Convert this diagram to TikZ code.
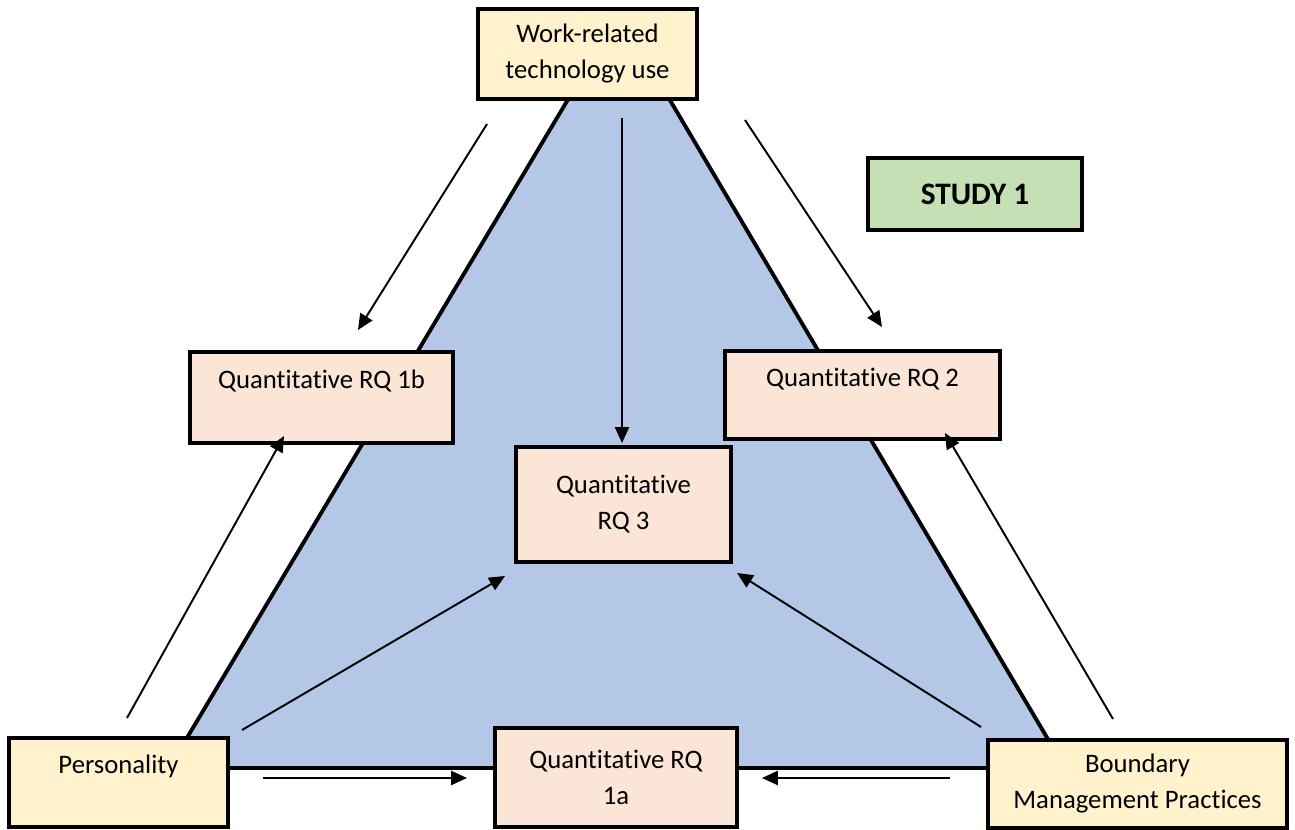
\documentclass[tikz,border=0pt]{standalone}
\usepackage{fontspec}
\setmainfont{Carlito}[Ligatures={NoCommon,NoContextual}]
\usetikzlibrary{arrows.meta}
\definecolor{techyellow}{RGB}{255,242,204}
\definecolor{rqpeach}{RGB}{251,229,214}
\definecolor{studygreen}{RGB}{197,224,180}
\definecolor{triblue}{RGB}{180,199,231}
\tikzset{
  box/.style={draw=black, line width=2.2pt, align=center, inner sep=2pt,
    font=\fontsize{15.2}{20.5}\selectfont},
  link/.style={-{Triangle[length=9pt, width=8pt]}, line width=1.1pt}
}

\begin{document}
\begin{tikzpicture}[x=0.02cm, y=-0.02cm]
  \useasboundingbox (0,0) rectangle (1295,830);
  % shaded triangle behind the boxes
  \fill[triblue] (619,14) -- (1065,768) -- (169,768) -- cycle;
  \draw[line width=2.2pt, line join=bevel] (169,768) -- (619,14) -- (1065,768) -- cycle;

  % boxes
  \node[box, fill=techyellow, minimum width=4.38cm, minimum height=1.8cm] (tech) at (587.5,54) {Work-related\\technology use};
  \node[box, fill=studygreen, minimum width=4.28cm, minimum height=1.44cm, font=\fontsize{17.8}{20}\selectfont\bfseries] (study) at (975,194) {STUDY 1};
  \node[box, fill=rqpeach, minimum width=5.26cm, minimum height=1.82cm] (rqonb) at (321.5,397.5) {Quantitative RQ 1b\\~};
  \node[box, fill=rqpeach, minimum width=5.5cm, minimum height=1.76cm] (rqtwo) at (862.5,395) {Quantitative RQ 2\\~};
  \node[box, fill=rqpeach, minimum width=4.3cm, minimum height=2.3cm] (rqthree) at (623.5,504.5) {Quantitative\\RQ 3};
  \node[box, fill=techyellow, minimum width=4.38cm, minimum height=1.78cm] (pers) at (118.5,782.5) {Personality\\~};
  \node[box, fill=rqpeach, minimum width=4.84cm, minimum height=1.98cm] (rqona) at (616,777.5) {Quantitative RQ\\1a};
  \node[box, fill=techyellow, minimum width=5.98cm, minimum height=1.76cm] (bmp) at (1137.5,784) {Boundary\\Management Practices};

  % arrow ends
  \coordinate (t1) at (487,124);  \coordinate (h1) at (358,330);
  \coordinate (t2) at (622,118);  \coordinate (h2) at (622,443);
  \coordinate (t3) at (745,120);  \coordinate (h3) at (882,327);
  \coordinate (p1) at (127,718);  \coordinate (q1) at (284,436);
  \coordinate (p2) at (242,730);  \coordinate (q2) at (505,576);
  \coordinate (p3) at (263,778);  \coordinate (q3) at (467,778);
  \coordinate (b1) at (950,778);  \coordinate (c1) at (762,778);
  \coordinate (b2) at (981,727);  \coordinate (c2) at (737,573);
  \coordinate (b3) at (1113,719); \coordinate (c3) at (945,433);

  \foreach \s/\e in {t1/h1, t2/h2, t3/h3, p1/q1, p2/q2, p3/q3, b1/c1, b2/c2, b3/c3}
    \draw[link] (\s) -- (\e);
\end{tikzpicture}
\end{document}
